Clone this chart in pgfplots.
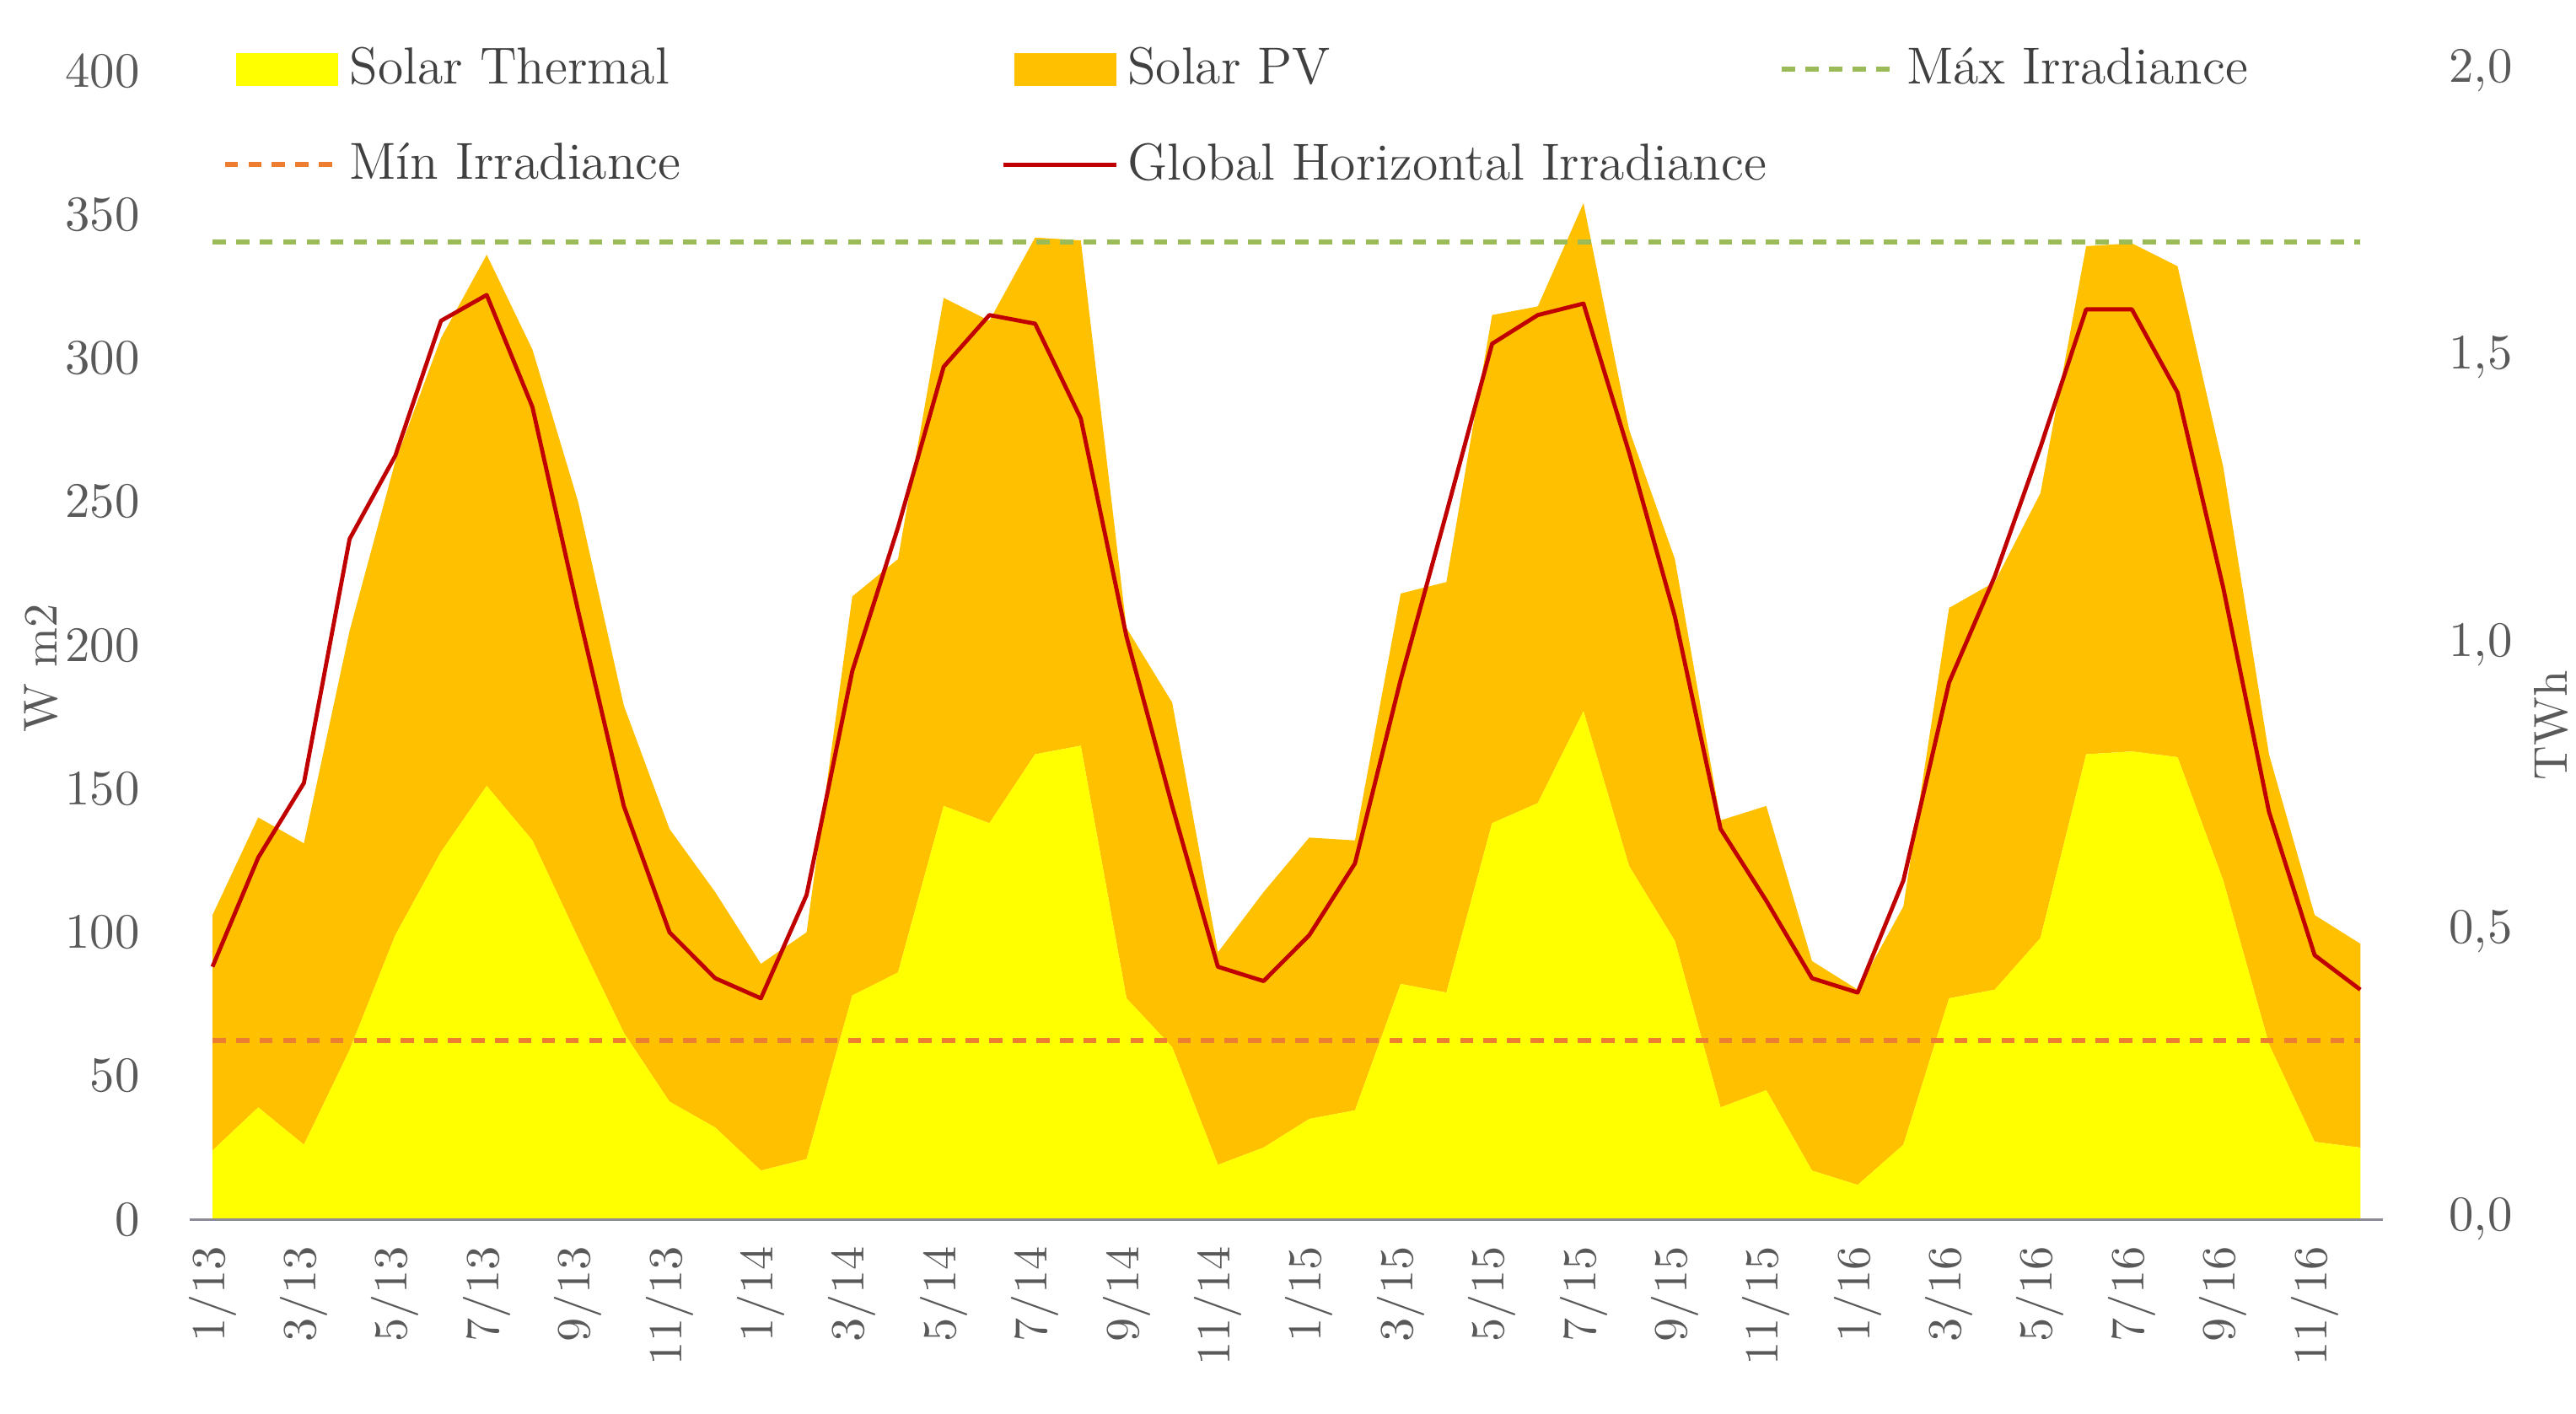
\documentclass[border=0pt]{standalone}
\usepackage{pgfplots}
\usepackage{pgfplotstable}
\pgfplotsset{compat=1.18}
\definecolor{stY}{RGB}{255,255,0}
\definecolor{pvO}{RGB}{255,192,0}
\definecolor{ghiR}{RGB}{192,0,0}
\definecolor{maxG}{RGB}{155,187,89}
\definecolor{minO}{RGB}{237,125,49}
\definecolor{tickc}{RGB}{89,89,89}
\definecolor{legc}{RGB}{64,64,64}
\definecolor{axl}{RGB}{140,140,150}
\pgfplotsset{
  arealeg/.style={legend image code/.code={\path[draw=none,fill=none] (-2.4pt,-4pt) rectangle (22.6pt,4pt); \fill[##1] (0pt,-3.65pt) rectangle (22.6pt,3.65pt);}},
  lineleg/.style={legend image code/.code={\path[draw=none,fill=none] (-2.4pt,-4pt) rectangle (22.6pt,4pt); \draw[##1] (-2.4pt,0pt) -- (22.6pt,0pt);}},
}

% month index, Solar Thermal (TWh), Solar PV (TWh), GHI (W m2)
\pgfplotstableread{
i th pv ghi
0 0.120 0.410 88
1 0.195 0.505 126
2 0.130 0.525 152
3 0.295 0.730 237
4 0.495 0.825 266
5 0.640 0.895 313
6 0.755 0.925 322
7 0.660 0.855 283
8 0.490 0.760 212
9 0.325 0.570 144
10 0.205 0.475 100
11 0.160 0.410 84
12 0.085 0.360 77
13 0.105 0.395 113
14 0.390 0.695 191
15 0.430 0.720 241
16 0.720 0.885 297
17 0.690 0.875 315
18 0.810 0.900 312
19 0.825 0.880 279
20 0.385 0.645 203
21 0.300 0.600 144
22 0.095 0.370 88
23 0.125 0.445 83
24 0.175 0.490 99
25 0.190 0.470 124
26 0.410 0.680 188
27 0.395 0.715 246
28 0.690 0.885 305
29 0.725 0.865 315
30 0.885 0.885 319
31 0.615 0.760 267
32 0.485 0.665 210
33 0.195 0.500 136
34 0.225 0.495 111
35 0.085 0.365 84
36 0.060 0.340 79
37 0.130 0.415 118
38 0.385 0.680 187
39 0.400 0.710 224
40 0.490 0.775 269
41 0.810 0.885 317
42 0.815 0.885 317
43 0.805 0.855 288
44 0.590 0.720 220
45 0.305 0.505 142
46 0.135 0.395 92
47 0.125 0.355 80
}\data

\begin{document}
\begin{tikzpicture}
\useasboundingbox (0,0) rectangle (569.1pt,312.4pt);
% secondary axis (TWh): stacked areas
\begin{axis}[
  at={(41.9pt,43pt)}, anchor=south west, scale only axis,
  width=484.6pt, height=253.7pt,
  xmin=-0.5, xmax=47.5, ymin=0, ymax=2,
  xtick=\empty,
  axis line style={draw=none}, tick style={draw=none},
  ytick={0,0.5,1,1.5,2},
  yticklabel pos=right,
  yticklabel shift=11pt,
  y tick label style={/pgf/number format/.cd, fixed, fixed zerofill, precision=1, use comma, /tikz/.cd,
     font=\fontsize{10.5}{12}\selectfont, text=tickc, anchor=west},
  every axis y label/.style={at={(axis description cs:1.0766,0.43)}, rotate=90, anchor=center},
  ylabel={TWh}, ylabel style={font=\fontsize{10.5}{12}\selectfont, text=tickc},
  stack plots=y,
]
\addplot[fill=stY, draw=none] table[x=i, y=th] {\data} \closedcycle;
\addplot[fill=pvO, draw=none] table[x=i, y=pv] {\data} \closedcycle;
\end{axis}
% primary axis (W m2): irradiance lines
\begin{axis}[
  at={(41.9pt,43pt)}, anchor=south west, scale only axis,
  width=484.6pt, height=253.7pt,
  xmin=-0.5, xmax=47.5, ymin=0, ymax=400,
  axis x line*=bottom, axis y line*=left,
  x axis line style={draw=axl, line width=0.6pt},
  y axis line style={draw=none},
  tick style={draw=none},
  xtick={0,2,...,46},
  xticklabels={1/13,3/13,5/13,7/13,9/13,11/13,1/14,3/14,5/14,7/14,9/14,11/14,1/15,3/15,5/15,7/15,9/15,11/15,1/16,3/16,5/16,7/16,9/16,11/16},
  xticklabel style={rotate=90, anchor=east, font=\fontsize{10.5}{12}\selectfont, text=tickc},
  xticklabel shift=2.5pt,
  ytick={0,50,...,400},
  yticklabel shift=7.5pt,
  yticklabel style={font=\fontsize{10.5}{12}\selectfont, text=tickc},
  every axis y label/.style={at={(axis description cs:-0.0677,0.48)}, rotate=90, anchor=center},
  ylabel={W m2}, ylabel style={font=\fontsize{10.5}{12}\selectfont, text=tickc},
  legend columns=3,
  legend style={at={(axis description cs:0.0145,0.96)}, anchor=west, draw=none, fill=none,
     inner sep=0pt, row sep=7.5pt, font=\fontsize{11.5}{13}\selectfont, text=legc,
     cells={anchor=west}},
]
\addlegendimage{fill=stY, draw=none, arealeg}
\addlegendentry{\makebox[142pt][l]{Solar Thermal}}
\addlegendimage{fill=pvO, draw=none, arealeg}
\addlegendentry{\makebox[142pt][l]{Solar PV}}
\addplot[maxG, line width=1.1pt, dash pattern=on 2.9pt off 2.3pt, lineleg]
  coordinates {(0,340.4) (47,340.4)};
\addlegendentry{M\'ax Irradiance}
\addplot[minO, line width=1.1pt, dash pattern=on 2.9pt off 2.3pt, lineleg]
  coordinates {(0,62.3) (47,62.3)};
\addlegendentry{\makebox[142pt][l]{M\'in Irradiance}}
\addplot[ghiR, line width=0.9pt, line join=round, lineleg]
  table[x=i, y=ghi] {\data};
\addlegendentry{Global Horizontal Irradiance}
\end{axis}
\end{tikzpicture}
\end{document}
